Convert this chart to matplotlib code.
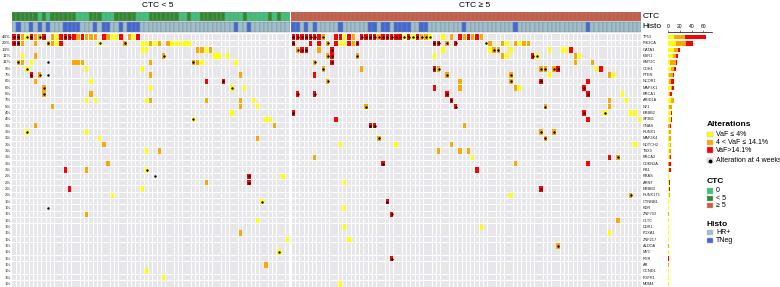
import matplotlib
matplotlib.use("Agg")
import matplotlib.pyplot as plt
from matplotlib.patches import Rectangle
from matplotlib.collections import PatchCollection

plt.rcParams["font.family"] = ["Liberation Sans", "DejaVu Sans"]

genes = ["TP53", "PIK3CA", "GATA3", "ESR1", "KMT2C", "CDH1", "PTEN", "NCOR1",
         "MAP3K1", "BRCA1", "ARID1A", "NF1", "ERBB2", "SF3B1", "GNAS", "RUNX1",
         "MAP2K4", "NOTCH2", "TBX3", "BRCA2", "CDKN2A", "RB1", "KRAS", "ARNT",
         "ERBB3", "RUNX1T1", "CTNNB1", "KDR", "ZNF703", "CLTC", "DDR1", "FOXA1",
         "ZNF217", "ALDOA", "MYC", "PGR", "AR", "CCND1", "FGFR1", "MDM4"]
freq_labels = ["44%", "29%", "14%", "11%", "11%", "9%", "7%", "6%", "6%", "5%",
               "7%", "5%", "4%", "4%", "3%", "3%", "3%", "3%", "3%", "3%",
               "3%", "3%", "2%", "2%", "2%", "2%", "1%", "1%", "1%", "1%",
               "1%", "1%", "1%", "1%", "1%", "1%", "1%", "1%", "1%", "1%"]

n_low = 65    # samples with CTC < 5
n_high = 82   # samples with CTC >= 5

# samples of the CTC < 5 group that have 0 CTC
ctc_zero = [6, 8, 15, 16, 17, 21, 22, 23, 29, 30, 31, 39, 40, 42, 43,
            50, 51, 52, 53, 55, 56, 57, 58, 59, 61, 63, 64]
# triple negative samples (others HR+)
tneg = [1, 4, 6, 8, 12, 13, 14, 15, 19, 21, 22, 25, 27, 28, 29, 52, 55,
        65, 66, 68, 70, 76, 83, 84, 86, 87, 89, 90, 91, 92, 95, 96, 105, 117, 134]

vaf_low = {
    "TP53": [3, 10, 23, 24, 28, 77, 91, 93, 97, 100],
    "PIK3CA": [10, 20, 30, 31, 33, 37, 38, 39, 40, 41, 76, 77, 115, 118],
    "GATA3": [30, 31, 45, 100, 111, 116, 125, 128, 129],
    "ESR1": [2, 47, 48, 50, 98, 115, 122, 132],
    "KMT2C": [4, 44, 52],
    "CDH1": [3, 17, 30, 136],
    "PTEN": [125, 140],
    "NCOR1": [18],
    "MAP3K1": [32, 51, 54, 118],
    "BRCA1": [142],
    "ARID1A": [17, 19, 31, 56, 143],
    "NF1": [57],
    "ERBB2": [51, 138, 144, 145],
    "SF3B1": [42, 59, 60, 146],
    "RUNX1": [3, 17],
    "MAP2K4": [20],
    "NOTCH2": [76, 89, 145],
    "TBX3": [31],
    "BRCA2": [107],
    "RB1": [31],
    "KRAS": [63],
    "ARNT": [77],
    "ERBB3": [30],
    "RUNX1T1": [23, 116],
    "CTNNB1": [58],
    "KDR": [77],
    "CLTC": [57],
    "DDR1": [77, 109],
    "FOXA1": [139],
    "ZNF217": [64, 78],
    "MYC": [62],
    "CCND1": [31],
    "FGFR1": [35],
    "MDM4": [76],
}

vaf_mid = {
    "TP53": [2, 5, 6, 9, 15, 17, 18, 19, 22, 27, 72, 79, 85, 95, 96, 102, 105, 107, 109],
    "PIK3CA": [2, 5, 8, 9, 26, 32, 34, 36, 73, 79, 101, 111, 114, 117, 119, 120],
    "GATA3": [43, 44, 46, 66, 71, 112, 113],
    "ESR1": [5, 35, 73, 80, 114, 131],
    "KMT2C": [1, 2, 14, 15, 16, 32, 42, 43, 70, 131, 135],
    "CDH1": [72, 81, 99, 123, 124, 126],
    "PTEN": [6, 32, 53, 101, 116, 139],
    "NCOR1": [5, 73, 104, 116],
    "MAP3K1": [7, 104, 117],
    "BRCA1": [7, 18],
    "ARID1A": [32, 45, 53, 139],
    "NF1": [9, 53, 82, 124, 139],
    "GNAS": [5, 61, 105],
    "RUNX1": [123, 126],
    "MAP2K4": [57, 85, 124],
    "NOTCH2": [21, 102],
    "TBX3": [34, 99, 104, 106],
    "BRCA2": [70, 141],
    "CDKN2A": [22, 117],
    "RB1": [17],
    "ARNT": [45],
    "RUNX1T1": [144],
    "ZNF703": [17],
    "CLTC": [141],
    "FOXA1": [53],
    "ALDOA": [127],
    "AR": [59],
}

vaf_high = {
    "TP53": [0, 1, 4, 7, 11, 12, 13, 14, 16, 21, 25, 29, 65, 66, 67, 68, 69, 70, 71,
             75, 76, 78, 81, 82, 83, 84, 86, 87, 88, 89, 90, 92, 94, 104, 106, 108],
    "PIK3CA": [0, 1, 11, 65, 69, 71, 75, 78, 80, 98, 99, 103],
    "GATA3": [67, 68, 74, 130],
    "ESR1": [74, 121],
    "KMT2C": [74],
    "CDH1": [98, 127, 137],
    "PTEN": [4, 70],
    "NCOR1": [45, 49, 123, 134],
    "MAP3K1": [98, 133],
    "BRCA1": [66, 70, 101, 134],
    "ARID1A": [102],
    "NF1": [103],
    "ERBB2": [65, 133],
    "SF3B1": [75, 134],
    "GNAS": [83, 84],
    "BRCA2": [139],
    "CDKN2A": [86, 134],
    "RB1": [12, 108],
    "KRAS": [55],
    "ARNT": [55],
    "ERBB3": [13, 123],
    "CTNNB1": [87],
    "ZNF703": [88],
    "PGR": [88],
}

# alteration still present at 4 weeks
week4 = {
    "TP53": [0, 1, 3, 4, 6, 7, 12, 13, 65, 66, 67, 68, 69, 70, 72, 81, 82, 83, 84,
             85, 86, 87, 88, 89, 90, 91, 92, 93, 94, 95, 96, 97],
    "PIK3CA": [0, 1, 8, 20, 26, 65, 73, 80, 98, 99, 101, 103, 110],
    "GATA3": [66, 67, 68, 74, 112, 113],
    "ESR1": [35, 73, 74, 80, 121, 122],
    "KMT2C": [1, 8, 42, 70, 74],
    "CDH1": [3, 72, 98, 99, 123, 124, 126, 127],
    "PTEN": [4, 6, 8, 101, 116],
    "NCOR1": [49, 73, 116, 123],
    "MAP3K1": [7, 51, 133],
    "BRCA1": [7, 66, 70, 101, 134],
    "ARID1A": [102],
    "NF1": [82, 103, 124],
    "ERBB2": [65, 133, 138],
    "SF3B1": [42],
    "GNAS": [83, 84],
    "RUNX1": [3, 123, 126],
    "MAP2K4": [85, 124],
    "BRCA2": [141],
    "CDKN2A": [86],
    "RB1": [31],
    "KRAS": [33, 55],
    "ARNT": [55],
    "ERBB3": [123],
    "RUNX1T1": [144],
    "CTNNB1": [58, 87],
    "KDR": [8],
    "ZNF703": [88],
    "ALDOA": [127],
    "MYC": [62],
    "PGR": [88],
}

YEL, ORA, RED = "#FFFF00", "#FFA500", "#FF0000"
CTC_ZERO, CTC_LOW, CTC_HIGH = "#3CC47C", "#2C8C2C", "#CC5A45"
HRPOS, TNEG = "#9CC0CE", "#3F68D8"
TILE = "#E6E6EB"

W, H = 780, 287
PX = 4.27
GRID_TOP = 34
ROW = (287 - GRID_TOP) / len(genes)


def box(x0, y0, x1, y1):
    return [x0 / W, 1 - y1 / H, (x1 - x0) / W, (y1 - y0) / H]


def to_rows(y):
    return (y - GRID_TOP) / ROW


fig = plt.figure(figsize=(7.8, 2.87), dpi=100)

gx, gy = 0.2, 0.13
ctc_y0, ctc_y1 = to_rows(12), to_rows(21)
his_y0, his_y1 = to_rows(22), to_rows(32)


def draw_panel(ax, start, stop):
    cols = range(start, stop)
    tiles = [Rectangle((c + gx / 2, r + gy / 2), 1 - gx, 1 - gy)
             for r in range(len(genes)) for c in cols]
    ax.add_collection(PatchCollection(tiles, facecolor=TILE, edgecolor="none"))
    for table, color in ((vaf_low, YEL), (vaf_mid, ORA), (vaf_high, RED)):
        rects = []
        for gene, samples in table.items():
            r = genes.index(gene)
            rects += [Rectangle((c + gx / 2, r + gy / 2), 1 - gx, 1 - gy)
                      for c in samples if start <= c < stop]
        ax.add_collection(PatchCollection(rects, facecolor=color, edgecolor="none"))
    xs, ys = [], []
    for gene, samples in week4.items():
        r = genes.index(gene)
        for c in samples:
            if start <= c < stop:
                xs.append(c + 0.5)
                ys.append(r + 0.5)
    ax.scatter(xs, ys, s=3.0, c="black", linewidths=0, zorder=5)

    # annotation tracks
    ctc_rects, ctc_cols, his_rects, his_cols = [], [], [], []
    for c in cols:
        if c >= n_low:
            ctc_cols.append(CTC_HIGH)
        elif c in ctc_zero:
            ctc_cols.append(CTC_ZERO)
        else:
            ctc_cols.append(CTC_LOW)
        ctc_rects.append(Rectangle((c, ctc_y0), 1, ctc_y1 - ctc_y0))
        his_cols.append(TNEG if c in tneg else HRPOS)
        his_rects.append(Rectangle((c, his_y0), 1, his_y1 - his_y0))
    ax.add_collection(PatchCollection(ctc_rects, facecolor=ctc_cols,
                                      edgecolor="#8a8a8a", linewidth=0.35))
    ax.add_collection(PatchCollection(his_rects, facecolor=his_cols,
                                      edgecolor="#8a8a8a", linewidth=0.35))
    ax.set_xlim(start, stop)
    ax.set_ylim(len(genes), ctc_y0)
    ax.axis("off")


ax_l = fig.add_axes(box(12, 12, 12 + n_low * PX, 287))
draw_panel(ax_l, 0, n_low)
ax_r = fig.add_axes(box(291.3, 12, 291.3 + n_high * PX, 287))
draw_panel(ax_r, n_low, n_low + n_high)

for r, lab in enumerate(freq_labels):
    ax_l.text(-0.25, r + 0.5, lab, ha="right", va="center", fontsize=3.2,
              color="#222222", clip_on=False)
for r, g in enumerate(genes):
    ax_r.text(n_low + n_high + 0.3, r + 0.5, g, ha="left", va="center",
              fontsize=2.8, color="#222222", clip_on=False)
ax_r.text(n_low + n_high + 0.2, (ctc_y0 + ctc_y1) / 2, "CTC", ha="left",
          va="center", fontsize=6, clip_on=False)
ax_r.text(n_low + n_high + 0.2, (his_y0 + his_y1) / 2, "Histo", ha="left",
          va="center", fontsize=6, clip_on=False)

fig.text(158 / W, 1 - 7.4 / H, "CTC < 5", ha="center", va="baseline", fontsize=6)
fig.text(475 / W, 1 - 7.4 / H, "CTC \u2265 5", ha="center", va="baseline", fontsize=6)

# side bar chart of alteration counts
ax_b = fig.add_axes(box(668.3, GRID_TOP, 668.3 + 75 * 0.583, 287))
left = [0] * len(genes)
for table, color in ((vaf_low, YEL), (vaf_mid, ORA), (vaf_high, RED)):
    counts = [len(table.get(g, [])) for g in genes]
    ax_b.barh([r + 0.5 for r in range(len(genes))], counts, left=left,
              height=0.68, color=color, linewidth=0)
    left = [a + b for a, b in zip(left, counts)]
ax_b.set_xlim(0, 75)
ax_b.set_ylim(len(genes), 0)
ax_b.set_xticks([0, 20, 40, 60])
ax_b.xaxis.tick_top()
ax_b.tick_params(axis="x", length=1.5, width=0.4, labelsize=3.6, pad=0.6,
                 color="#333333")
ax_b.set_yticks([])
for s in ("bottom", "left", "right"):
    ax_b.spines[s].set_visible(False)
ax_b.spines["top"].set_linewidth(0.5)
ax_b.spines["top"].set_position(("outward", 1.2))
ax_b.set_facecolor("none")


# legend
def legend_box(y, color):
    fig.add_artist(Rectangle((707.3 / W, 1 - (y + 2.6) / H), 6 / W, 5.2 / H,
                             transform=fig.transFigure, facecolor=color,
                             edgecolor="#bbbbbb", linewidth=0.3))


def legend_text(y, s, bold=False, x=716):
    fig.text(x / W, 1 - y / H, s, ha="left", va="center", fontsize=6 if bold else 5,
             fontweight="bold" if bold else "normal")


legend_text(124.3, "Alterations", bold=True, x=706.5)
legend_box(134.2, YEL)
legend_text(134.2, "VaF \u2264 4%")
legend_box(142.2, ORA)
legend_text(142.2, "4 < VaF \u2264 14.1%")
legend_box(150.0, RED)
legend_text(150.0, "VaF>14.1%")
legend_box(160.7, TILE)
fig.add_artist(plt.Line2D([710.3 / W], [1 - 160.7 / H], marker="o", markersize=1.8,
                          color="black", linestyle="none", transform=fig.transFigure))
legend_text(160.7, "Alteration at 4 weeks")

legend_text(181.7, "CTC", bold=True, x=706.5)
legend_box(191.0, CTC_ZERO)
legend_text(191.0, "0")
legend_box(198.5, CTC_LOW)
legend_text(198.5, "< 5")
legend_box(205.8, CTC_HIGH)
legend_text(205.8, "\u2265 5")

legend_text(224.0, "Histo", bold=True, x=706.5)
legend_box(232.7, HRPOS)
legend_text(232.7, "HR+")
legend_box(240.3, TNEG)
legend_text(240.3, "TNeg")

fig.savefig("out.png", dpi=100)
